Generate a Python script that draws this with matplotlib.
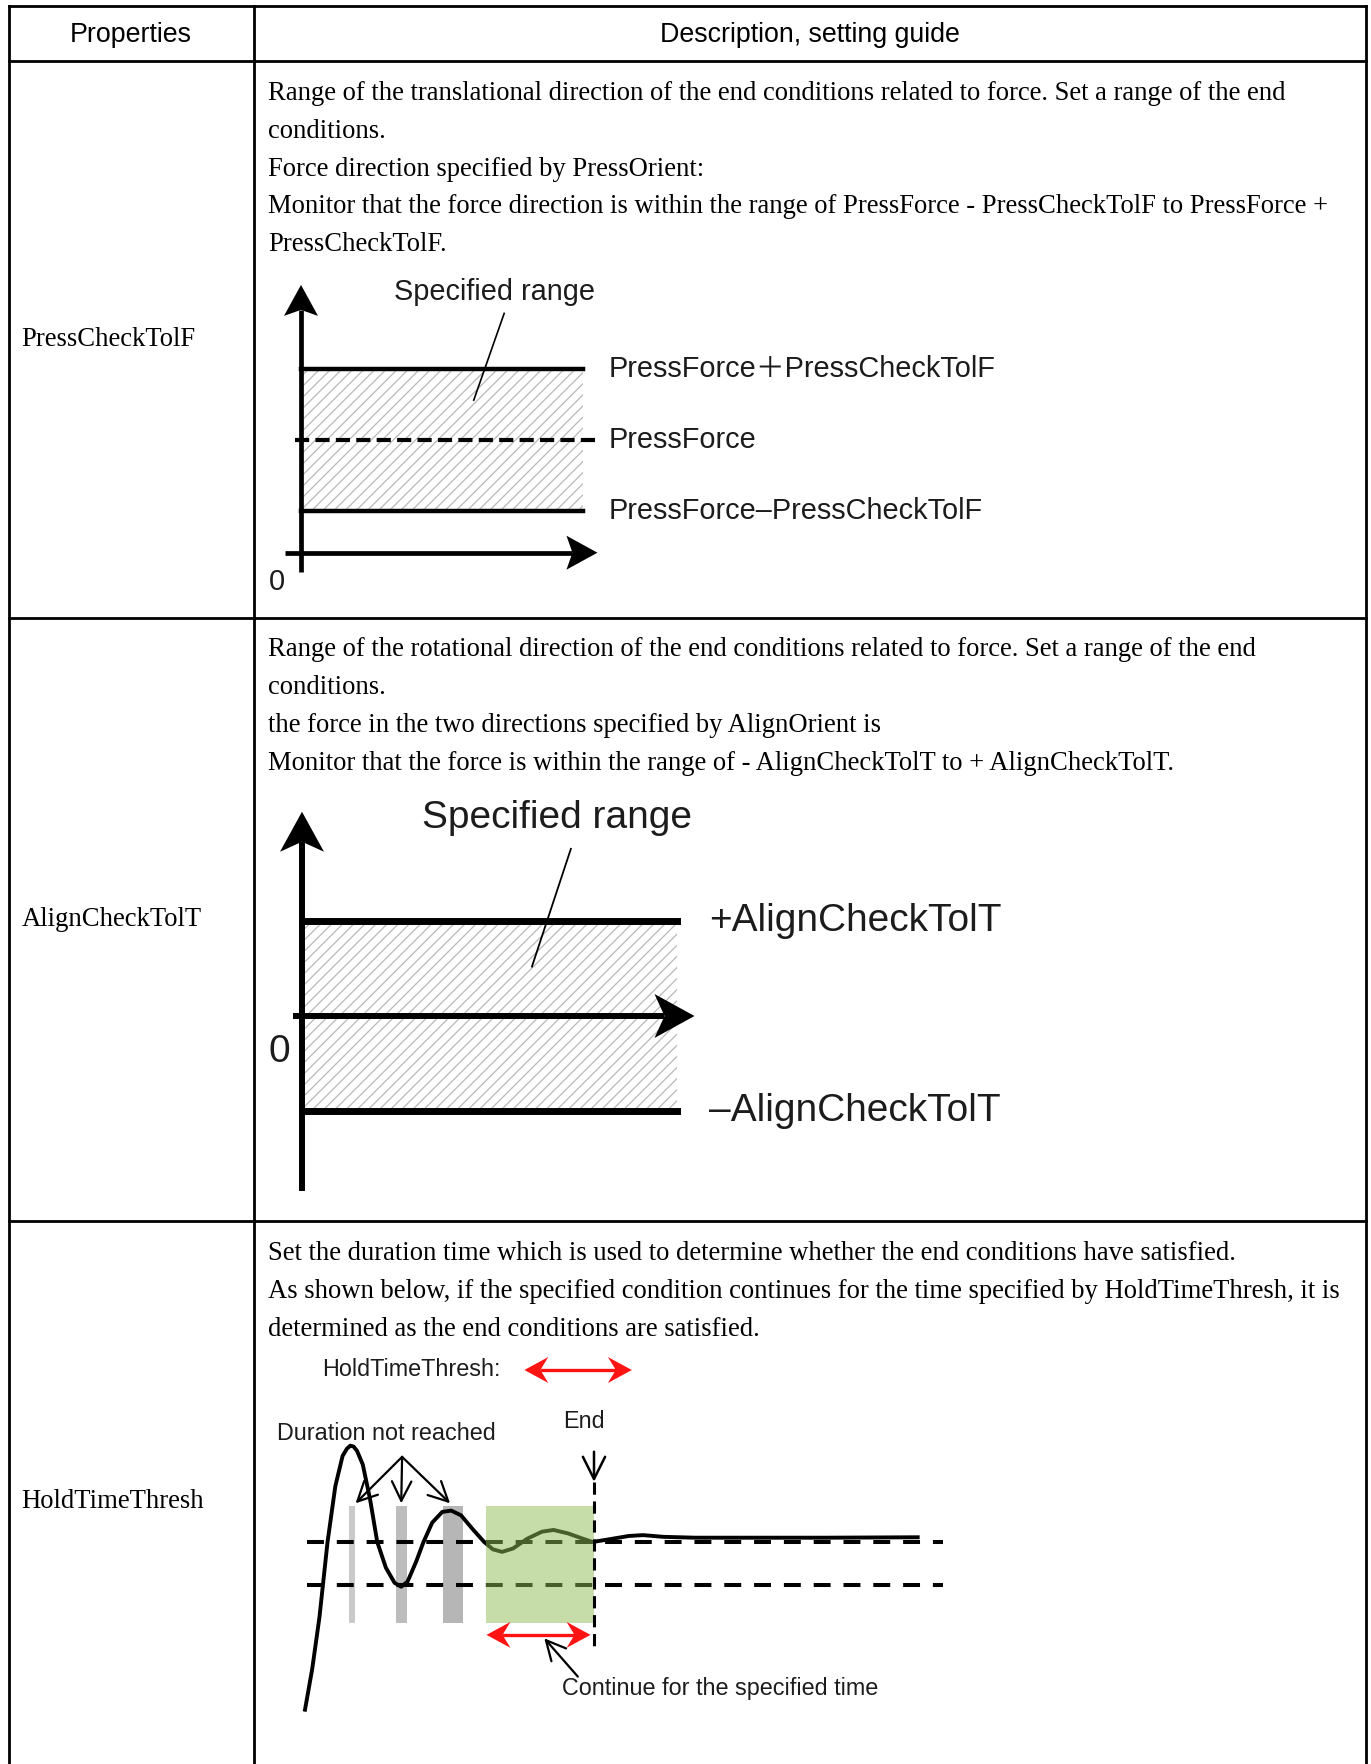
import matplotlib.pyplot as plt

W, H = 1371, 1764

# ---- table text ----
header = ["Properties", "Description, setting guide"]
properties = ["PressCheckTolF", "AlignCheckTolT", "HoldTimeThresh"]
desc_press = [
    "Range of the translational direction of the end conditions related to force. Set a range of the end",
    "conditions.",
    "Force direction specified by PressOrient:",
    "Monitor that the force direction is within the range of PressForce - PressCheckTolF to PressForce +",
    "PressCheckTolF.",
]
desc_align = [
    "Range of the rotational direction of the end conditions related to force. Set a range of the end",
    "conditions.",
    "the force in the two directions specified by AlignOrient is",
    "Monitor that the force is within the range of - AlignCheckTolT to + AlignCheckTolT.",
]
desc_hold = [
    "Set the duration time which is used to determine whether the end conditions have satisfied.",
    "As shown below, if the specified condition continues for the time specified by HoldTimeThresh, it is",
    "determined as the end conditions are satisfied.",
]

# ---- PressCheckTolF diagram ----
press_force = 5.0
press_tol = 3.15
press_labels = ["PressForce＋PressCheckTolF", "PressForce", "PressForce–PressCheckTolF"]

# ---- AlignCheckTolT diagram ----
align_tol = 1.0
align_labels = ["+AlignCheckTolT", "–AlignCheckTolT"]

# ---- HoldTimeThresh diagram ----
t_resp = [0.0, 0.25, 0.5, 0.78, 1.05, 1.3, 1.45, 1.57, 1.68, 1.8, 2.0, 2.25, 2.5, 2.8, 3.1,
          3.33, 3.55, 3.85, 4.1, 4.4, 4.75, 5.06, 5.4, 5.8, 6.2, 6.5, 6.82, 7.2, 7.7,
          8.2, 8.6, 9.1, 9.6, 9.95, 10.5, 11.2, 11.7, 12.4, 13.5, 15.5, 18.0, 21.2]
y_resp = [-2.9, -1.95, -0.75, 1.0, 2.3, 3.0, 3.17, 3.24, 3.22, 3.12, 2.8, 2.0, 1.0, 0.4, 0.05,
          -0.04, 0.08, 0.55, 1.0, 1.45, 1.7, 1.73, 1.62, 1.3, 1.0, 0.83, 0.77, 0.85, 1.08,
          1.24, 1.28, 1.2, 1.08, 1.0, 1.06, 1.14, 1.16, 1.12, 1.1, 1.1, 1.1, 1.11]
band_lo, band_hi = 0.0, 1.0
miss_t = [1.63, 3.35, 5.12]
miss_w = [0.20, 0.39, 0.67]
hold_start = 6.28
end_time = 10.0

SERIF = "Liberation Serif"
SANS = ["Liberation Sans", "Noto Sans CJK JP", "DejaVu Sans"]
INK = "#1c1c1c"


def panel(fig, origin, scale, xlim, ylim):
    ox, oy = origin
    sx, sy = scale
    left, right = ox + xlim[0] * sx, ox + xlim[1] * sx
    top, bottom = oy - ylim[1] * sy, oy - ylim[0] * sy
    ax = fig.add_axes([left / W, 1 - bottom / H, (right - left) / W, (bottom - top) / H])
    ax.set_xlim(xlim)
    ax.set_ylim(ylim)
    ax.axis("off")
    ax.px = scale
    return ax


def head(ax, tip, d, length, half, notch, color="black", z=6):
    # barbed arrow head, sizes in pixels, d = unit direction (x right, y up)
    sx, sy = ax.px
    ux, uy = d
    nx, ny = -uy, ux
    pts = [(0, 0),
           (-length * ux + half * nx, -length * uy + half * ny),
           (-(length - notch) * ux, -(length - notch) * uy),
           (-length * ux - half * nx, -length * uy - half * ny)]
    ax.fill([tip[0] + a / sx for a, b in pts], [tip[1] + b / sy for a, b in pts],
            color=color, lw=0, zorder=z, clip_on=False)


def axis_arrow(ax, start, tip, lw, length, half, notch):
    sx, sy = ax.px
    if start[1] == tip[1]:
        d = (1, 0)
        end = (tip[0] - (length - notch) / sx, tip[1])
    else:
        d = (0, 1)
        end = (tip[0], tip[1] - (length - notch) / sy)
    ax.plot([start[0], end[0]], [start[1], end[1]], color="black", lw=lw, zorder=5,
            solid_capstyle="butt", clip_on=False)
    head(ax, tip, d, length, half, notch)


def arrow(ax, start, end, lw, hl, hw, ms=20, color="black", style="->", z=6):
    ax.annotate("", xy=end, xytext=start, annotation_clip=False, zorder=z,
                arrowprops=dict(arrowstyle=f"{style},head_length={hl},head_width={hw}",
                                lw=lw, color=color, shrinkA=0, shrinkB=0,
                                mutation_scale=ms))


def red_span(ax, x0, x1, y):
    sx = ax.px[0]
    ax.plot([x0 + 16 / sx, x1 - 16 / sx], [y, y], color="#ff1414", lw=2.4, zorder=6,
            solid_capstyle="butt")
    head(ax, (x1, y), (1, 0), 24, 13, 8, color="#ff1414")
    head(ax, (x0, y), (-1, 0), 24, 13, 8, color="#ff1414")


plt.rcParams["hatch.linewidth"] = 0.9
fig = plt.figure(figsize=(W / 100, H / 100), dpi=100)

# ---- table grid ----
ax = fig.add_axes([0, 0, 1, 1])
ax.set_xlim(0, W)
ax.set_ylim(H, 0)
ax.axis("off")
x_l, x_m, x_r = 8.5, 254, 1366
for y in [5.5, 60.5, 617.5, 1221]:
    ax.plot([x_l, x_r], [y, y], color="black", lw=2.0, solid_capstyle="projecting")
for x in [x_l, x_m, x_r]:
    ax.plot([x, x], [5.5, H], color="black", lw=2.0)

ax.text((x_l + x_m) / 2, 35, header[0], family=SANS, fontsize=19.3, ha="center", va="center")
ax.text((x_m + x_r) / 2, 35, header[1], family=SANS, fontsize=19.3, ha="center", va="center")

for name, y in zip(properties, [340, 920, 1501]):
    ax.text(21.5, y, name, family=SERIF, fontsize=19.2, ha="left", va="center")

for lines, y0 in [(desc_press, 93.5), (desc_align, 650), (desc_hold, 1253.5)]:
    for i, line in enumerate(lines):
        ax.text(268, y0 + i * 37.8, line, family=SERIF, fontsize=19.2, ha="left", va="center")

# ---- PressCheckTolF diagram ----
a1 = panel(fig, (301, 552.7), (28.18, 22.6), (-0.6, 10.6), (-0.9, 12.0))
lo, hi = press_force - press_tol, press_force + press_tol
a1.fill_between([0, 10], lo, hi, facecolor="white", hatch="///", edgecolor="#b8b8b8", lw=0, zorder=1)
a1.plot([0, 10], [hi, hi], color="black", lw=3.2, zorder=3)
a1.plot([0, 10], [lo, lo], color="black", lw=3.2, zorder=3)
a1.plot([-0.21, 10.45], [press_force, press_force], color="black", lw=3.0,
        dashes=(3.4, 1.5), zorder=3)
axis_arrow(a1, (0, -0.84), (0, 11.85), lw=3.4, length=31, half=17, notch=6)
axis_arrow(a1, (-0.56, 0), (10.52, 0), lw=3.4, length=31, half=17, notch=6)
a1.text(-0.85, -1.28, "0", family=SANS, fontsize=20.8, color=INK, ha="center", va="center")
a1.text(6.85, 11.55, "Specified range", family=SANS, fontsize=20.8, color=INK, ha="center", va="center")
a1.plot([7.21, 6.13], [10.59, 6.75], color="black", lw=1.2)
for lab, y in zip(press_labels, [hi, press_force, lo]):
    a1.text(10.92, y, lab, family=SANS, fontsize=20.8, color=INK, ha="left", va="center")

# ---- AlignCheckTolT diagram ----
a2 = panel(fig, (302, 1016), (37.45, 95), (-0.3, 10.6), (-1.9, 2.2))
a2.fill_between([0, 10], -align_tol, align_tol, facecolor="white", hatch="///",
                edgecolor="#b8b8b8", lw=0, zorder=1)
a2.plot([0, 10], [align_tol, align_tol], color="black", lw=5, zorder=3)
a2.plot([0, 10], [-align_tol, -align_tol], color="black", lw=5, zorder=3)
axis_arrow(a2, (0, -1.84), (0, 2.15), lw=4.3, length=40, half=22, notch=10)
axis_arrow(a2, (-0.24, 0), (10.48, 0), lw=4.3, length=40, half=22, notch=10)
a2.text(-0.6, -0.38, "0", family=SANS, fontsize=28, color=INK, ha="center", va="center")
a2.text(6.82, 2.08, "Specified range", family=SANS, fontsize=28, color=INK, ha="center", va="center")
a2.plot([7.18, 6.14], [1.76, 0.52], color="black", lw=1.3)
for lab, y in zip(align_labels, [align_tol, -align_tol]):
    a2.text(10.87, y, lab, family=SANS, fontsize=28, color=INK, ha="left", va="center")

# ---- HoldTimeThresh diagram ----
a3 = panel(fig, (305, 1585), (28.9, 43), (-1.2, 22.5), (-3.3, 5.6))
a3.bar(miss_t, [2.72] * 3, width=miss_w, bottom=-0.88, color=["#cacaca", "#bdbdbd", "#b6b6b6"],
       zorder=1)
for yb in [band_hi, band_lo]:
    a3.plot([0.07, 22.06], [yb, yb], color="black", lw=2.9, dashes=(4.2, 3.2), zorder=2)
a3.plot(t_resp, y_resp, color="black", lw=2.8, solid_joinstyle="round", zorder=3)
a3.bar([(hold_start + end_time) / 2], [2.72], width=end_time - hold_start, bottom=-0.88,
       color="#91bd55", alpha=0.5, zorder=4)
a3.plot([end_time, end_time], [2.40, -1.47], color="black", lw=2.2, dashes=(4, 2.2), zorder=5)
arrow(a3, (end_time, 3.10), (end_time, 2.40), lw=1.8, hl=0.8, hw=0.4)
a3.text(end_time - 0.36, 3.80, "End", family=SANS, fontsize=16.8, color=INK, ha="center", va="center")

hold_time = end_time - hold_start
red_span(a3, 7.59, 7.59 + hold_time, 5.0)
red_span(a3, hold_start, end_time - 0.12, -1.16)
a3.text(0.6, 5.0, "HoldTimeThresh:", family=SANS, fontsize=16.8, color=INK, ha="left", va="center")
a3.text(-0.97, 3.53, "Duration not reached", family=SANS, fontsize=16.8, color=INK,
        ha="left", va="center")
for tx in [1.75, 3.33, 5.02]:
    arrow(a3, (3.36, 2.98), (tx, 1.90), lw=1.6, hl=0.7, hw=0.35)
arrow(a3, (9.44, -2.13), (8.28, -1.24), lw=1.6, hl=0.7, hw=0.35)
a3.text(8.9, -2.40, "Continue for the specified time", family=SANS, fontsize=16.8, color=INK,
        ha="left", va="center")

fig.savefig("out.png", dpi=100)
